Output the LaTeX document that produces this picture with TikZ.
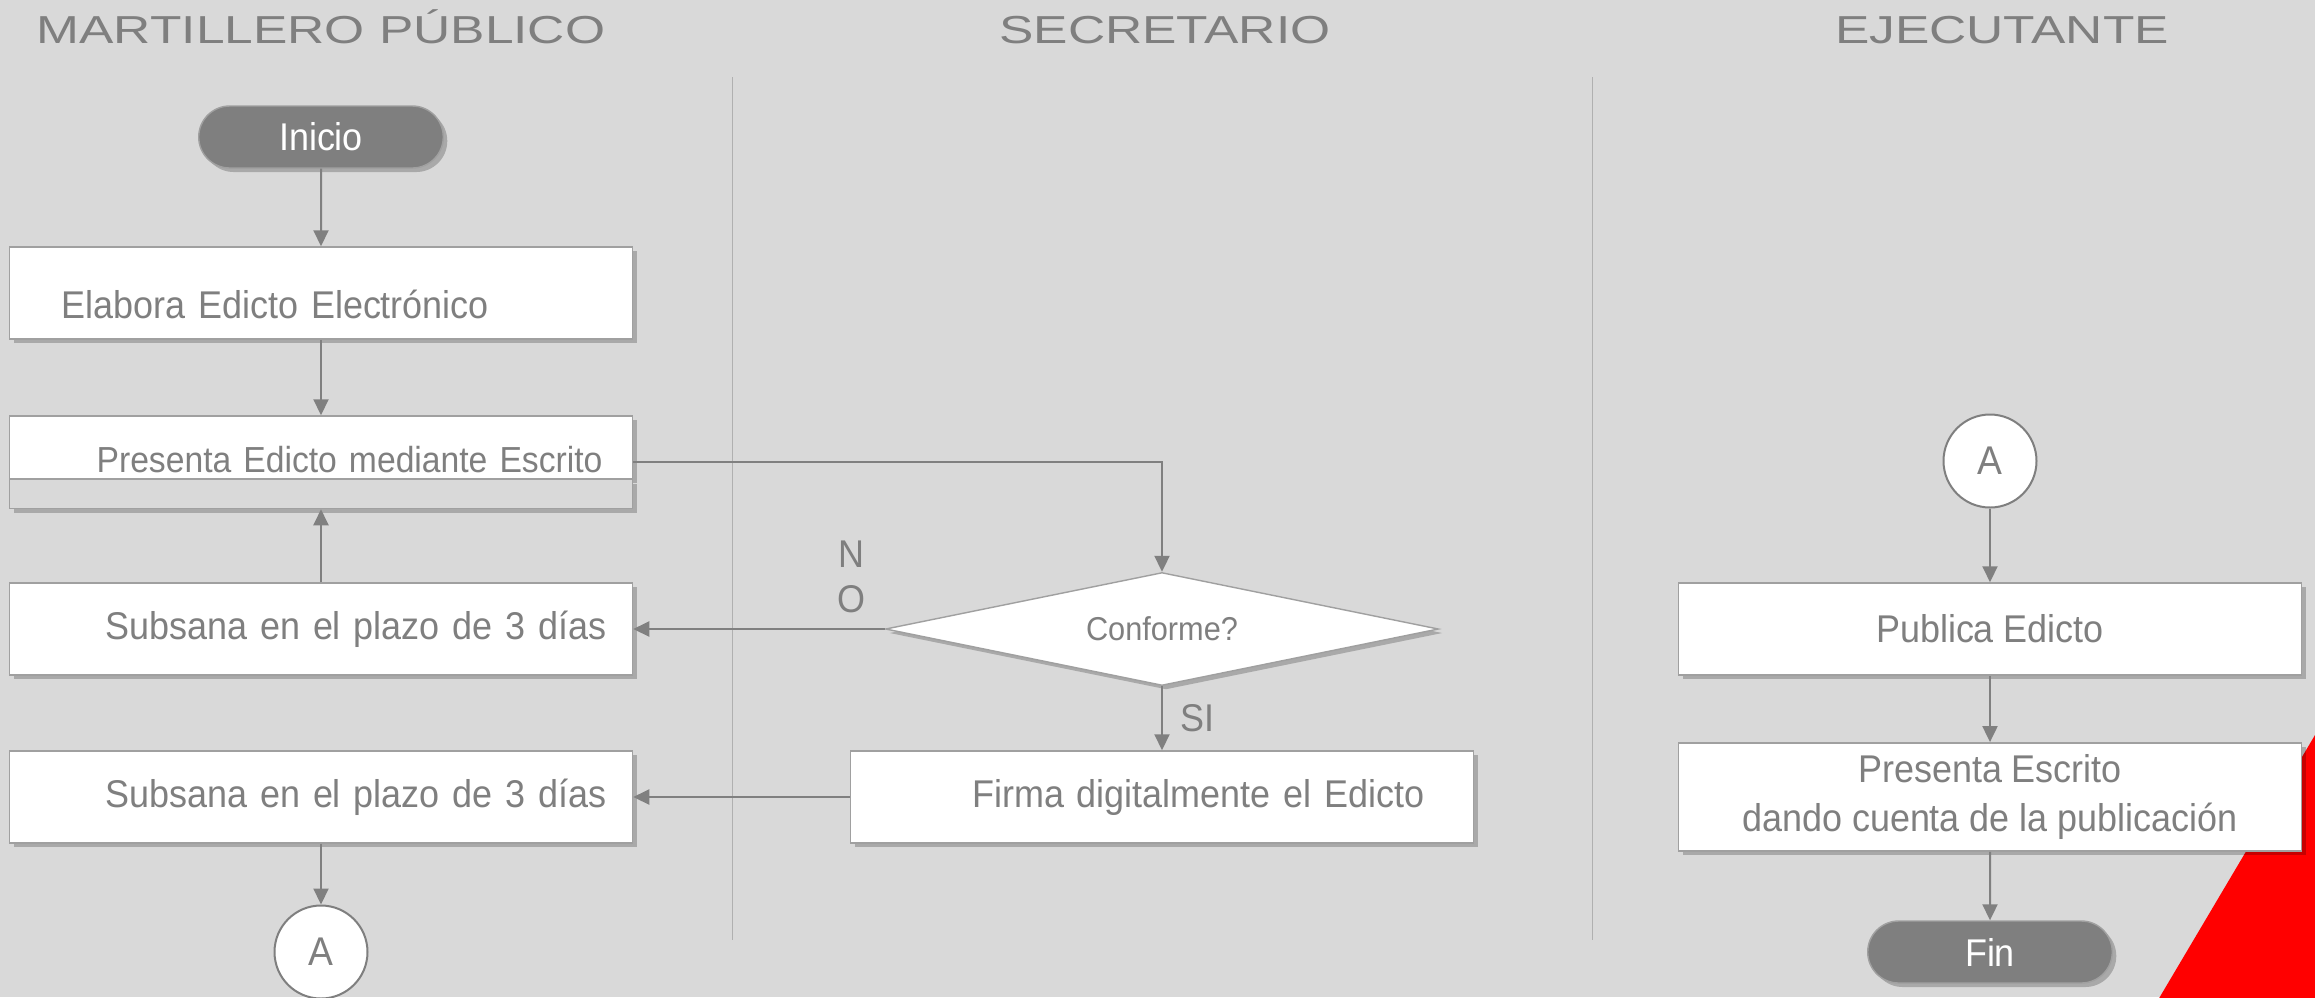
\documentclass[tikz,border=0pt]{standalone}
\usepackage{fontspec}
\setmainfont[FakeStretch=0.93]{Liberation Sans}
\newfontfamily\lanefont[FakeStretch=1.32]{Liberation Sans}
\usetikzlibrary{arrows.meta, shapes.geometric, shapes.misc, shadows}

\definecolor{fondo}{HTML}{D9D9D9}
\definecolor{gristexto}{HTML}{7F7F7F}
\definecolor{grisborde}{HTML}{A0A0A0}
\definecolor{grislinea}{HTML}{808080}
\definecolor{grissep}{HTML}{B0B0B0}

\tikzset{
  sombra/.style={drop shadow={shadow xshift=0.4mm, shadow yshift=-0.4mm, fill=black, opacity=0.22}},
  proceso/.style={rectangle, draw=grisborde, line width=0.15mm, fill=white,
    minimum width=62.3mm, minimum height=9.2mm, text=gristexto,
    font=\fontsize{11}{13.9}\selectfont, sombra},
  terminal/.style={rounded rectangle, draw=grisborde, fill=gristexto, text=white,
    minimum width=26.8mm, minimum height=6.2mm, font=\fontsize{11}{13}\selectfont, sombra},
  conector/.style={circle, draw=gristexto, line width=0.2mm, fill=white, minimum size=9.3mm,
    inner sep=0pt, text=gristexto, font=\fontsize{11.4}{13}\selectfont},
  decision/.style={diamond, aspect=4.9, draw=grisborde, fill=white, minimum width=55.3mm,
    minimum height=11.3mm, inner sep=0pt, text=gristexto, font=\fontsize{9.4}{11}\selectfont, sombra},
  flujo/.style={draw=grislinea, line width=0.2mm, -{Triangle[length=1.6mm, width=1.5mm]}},
  carril/.style={text=gristexto, font=\lanefont\fontsize{11.1}{13}\selectfont, anchor=base},
  etiqueta/.style={text=gristexto, font=\fontsize{11}{12.8}\selectfont, align=center},
}

\begin{document}
\begin{tikzpicture}[x=0.1mm, y=-0.1mm]
\path[use as bounding box, fill=fondo] (0,0) rectangle (2315,997);
\fill[red] (2315,735) -- (2315,1000) -- (2158,1000) -- cycle;

% carriles
\node[carril] (tmart) at (321,43) {MARTILLERO PÚBLICO};
\node[carril] (tsec) at (1165,43) {SECRETARIO};
\node[carril] (tejec) at (2002,43) {EJECUTANTE};
\draw[grissep, line width=0.1mm] (732,77) -- (732,940);
\draw[grissep, line width=0.1mm] (1592,77) -- (1592,940);

% Martillero publico
\node[terminal] (inicio) at (321,137) {Inicio};
\node[proceso, align=left, inner xsep=5.2mm, text width=51.9mm, inner ysep=0pt,
  text height=7.1mm, text depth=2.1mm]
  (elabora) at (321,293) {Elabora Edicto Electrónico};
\node[proceso, align=right, inner xsep=3mm, text width=56.3mm, inner ysep=0pt,
  minimum height=6.3mm, text height=5.6mm, text depth=0.7mm, font=\fontsize{10.3}{12.4}\selectfont]
  (presenta) at (321,447.5) {Presenta Edicto mediante Escrito};
\node[proceso, fill=fondo, minimum height=2.9mm] (presentab) at (321,494) {};
\node[proceso, align=right, inner xsep=2.6mm, text width=57.1mm] (subsana1) at (321,629) {Subsana en el plazo de 3 días};
\node[proceso, align=right, inner xsep=2.6mm, text width=57.1mm] (subsana2) at (321,797) {Subsana en el plazo de 3 días};
\node[conector] (conA1) at (321,952) {A};

% Secretario
\node[decision] (conforme) at (1162,629) {Conforme?};
\node[proceso, align=right, inner xsep=4.9mm, text width=52.5mm] (firma) at (1162,797) {Firma digitalmente el Edicto};

% Ejecutante
\node[conector] (conA2) at (1990,461) {A};
\node[proceso, align=center] (publica) at (1990,629) {Publica Edicto};
\node[proceso, align=center] (escrito) at (1990,797) {Presenta Escrito\\dando cuenta de la publicación};
\node[terminal] (fin) at (1990,952) {Fin};

% flujo
\draw[flujo] (inicio) -- (elabora);
\draw[flujo] (elabora) -- (presenta);
\draw[flujo] (subsana1) -- (presentab);
\draw[flujo] ([yshift=-1.4mm]presenta.east) -| (conforme.north);
\draw[flujo] (conforme) -- (subsana1);
\draw[flujo] (conforme) -- (firma);
\draw[flujo] (firma) -- (subsana2);
\draw[flujo] (subsana2) -- (conA1);
\draw[flujo] (conA2) -- (publica);
\draw[flujo] (publica) -- (escrito);
\draw[flujo] (escrito) -- (fin);
\node[etiqueta] (no) at (851,577) {N\\O};
\node[etiqueta] (si) at (1197,718) {SI};
\end{tikzpicture}
\end{document}
